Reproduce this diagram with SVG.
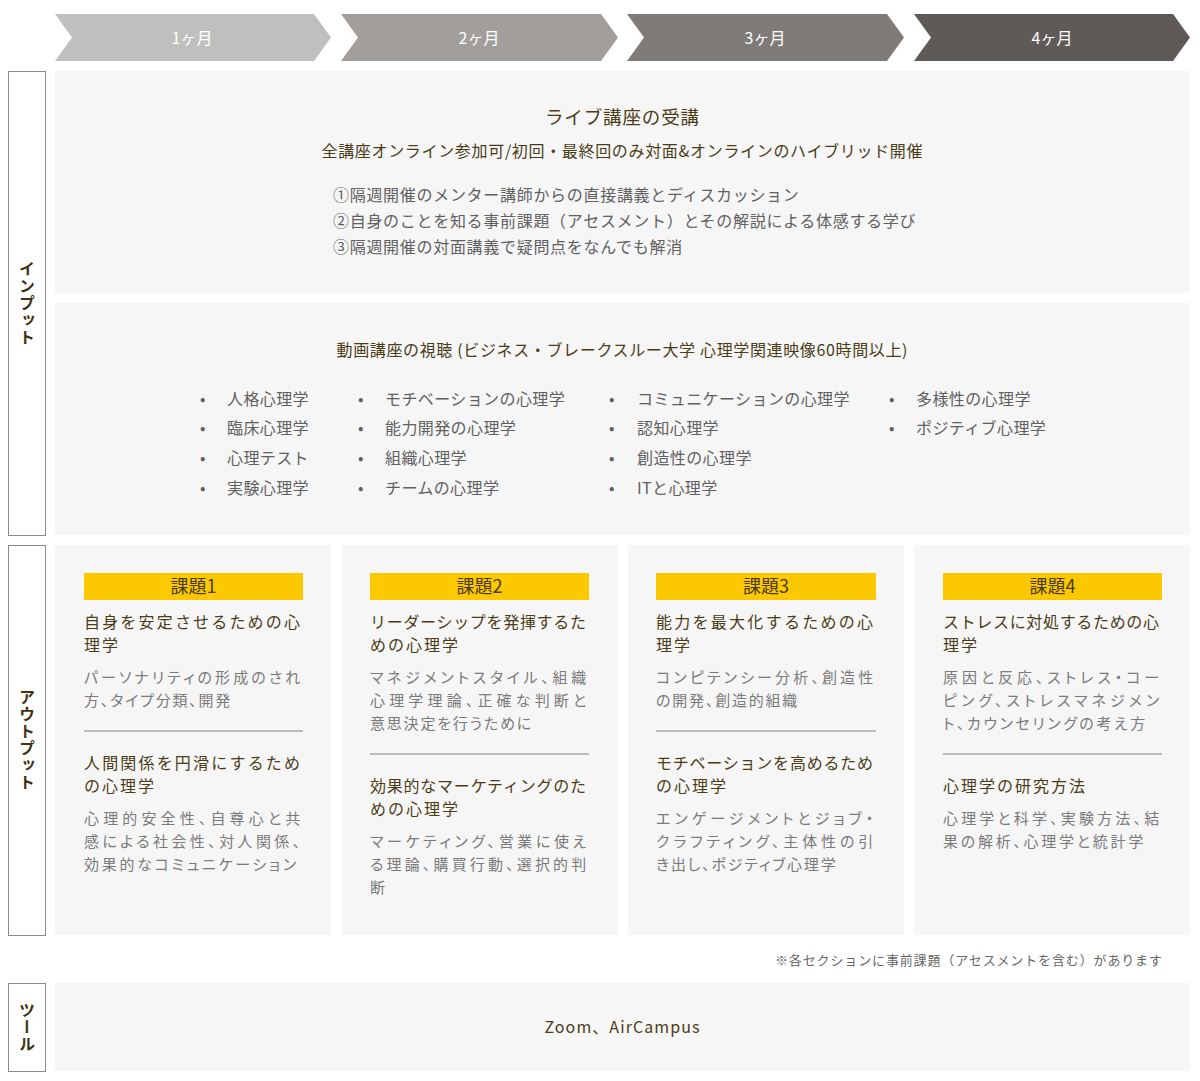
<svg xmlns="http://www.w3.org/2000/svg" width="1200" height="1081" viewBox="0 0 1200 1081">
<style>
text{font-family:"Noto Sans CJK JP","Noto Sans",sans-serif;}
.chev text{fill:#ffffff;font-size:16px;text-anchor:middle;}
.panel{fill:#f6f6f6;}
.lbl{fill:#ffffff;stroke:#8a8a8a;stroke-width:1;}
.vt{font-size:16px;font-weight:bold;fill:#3d3213;writing-mode:vertical-rl;text-anchor:middle;letter-spacing:1px;}
.hd{fill:#4a3c16;font-size:16px;}
.big{font-size:18.5px;}
.li{fill:#606060;font-size:16px;letter-spacing:0.7px;}
.bl{fill:#606060;font-size:16px;letter-spacing:0.4px;}
.bar{fill:#fcc800;}
.bt{fill:#4a3c16;font-size:18px;text-anchor:middle;}
.t{fill:#4a3c16;font-size:16px;letter-spacing:2px;}
.b{fill:#7a7a7a;font-size:15px;letter-spacing:1.8px;font-feature-settings:"palt";}
.div{stroke:#a8a8a8;stroke-width:1.3;}
</style>

<g id="timeline" class="chev">
<g id="m1"><polygon points="55,14 314,14 331,37.5 314,61 55,61 72,37.5" fill="#c0bfbd"/><text x="192" y="44">1ヶ月</text></g>
<g id="m2"><polygon points="341,14 601,14 618,37.5 601,61 341,61 358,37.5" fill="#a19e9c"/><text x="479" y="44">2ヶ月</text></g>
<g id="m3"><polygon points="627,14 887,14 904,37.5 887,61 627,61 644,37.5" fill="#7f7b79"/><text x="765" y="44">3ヶ月</text></g>
<g id="m4"><polygon points="914,14 1173,14 1190,37.5 1173,61 914,61 931,37.5" fill="#5f5a58"/><text x="1052" y="44">4ヶ月</text></g>
</g>

<g id="label-input"><rect class="lbl" x="8.5" y="71.5" width="37" height="464"/><text class="vt" x="27" y="303">インプット</text></g>
<g id="label-output"><rect class="lbl" x="8.5" y="545.5" width="37" height="390"/><text class="vt" x="27" y="740">アウトプット</text></g>
<g id="label-tool"><rect class="lbl" x="8.5" y="983.5" width="37" height="88"/><text class="vt" x="27" y="1027">ツール</text></g>

<g id="live">
<rect class="panel" x="55" y="71" width="1135" height="222"/>
<text class="hd big" x="622" y="124" text-anchor="middle" textLength="154">ライブ講座の受講</text>
<text class="hd" x="622" y="157" text-anchor="middle" textLength="601">全講座オンライン参加可/初回・最終回のみ対面&amp;オンラインのハイブリッド開催</text>
<text class="li" x="333" y="201">①隔週開催のメンター講師からの直接講義とディスカッション</text>
<text class="li" x="333" y="227">②自身のことを知る事前課題（アセスメント）とその解説による体感する学び</text>
<text class="li" x="333" y="253">③隔週開催の対面講義で疑問点をなんでも解消</text>
</g>

<g id="video">
<rect class="panel" x="55" y="303" width="1135" height="232"/>
<text class="hd" x="622" y="356" text-anchor="middle" textLength="571">動画講座の視聴 (ビジネス・ブレークスルー大学 心理学関連映像60時間以上)</text>
<g class="bl">
<text x="200" y="405">•</text><text x="227" y="405">人格心理学</text>
<text x="200" y="434">•</text><text x="227" y="434">臨床心理学</text>
<text x="200" y="464">•</text><text x="227" y="464">心理テスト</text>
<text x="200" y="494">•</text><text x="227" y="494">実験心理学</text>
<text x="358" y="405">•</text><text x="385" y="405">モチベーションの心理学</text>
<text x="358" y="434">•</text><text x="385" y="434">能力開発の心理学</text>
<text x="358" y="464">•</text><text x="385" y="464">組織心理学</text>
<text x="358" y="494">•</text><text x="385" y="494">チームの心理学</text>
<text x="609" y="405">•</text><text x="637" y="405">コミュニケーションの心理学</text>
<text x="609" y="434">•</text><text x="637" y="434">認知心理学</text>
<text x="609" y="464">•</text><text x="637" y="464">創造性の心理学</text>
<text x="609" y="494">•</text><text x="637" y="494">ITと心理学</text>
<text x="889" y="405">•</text><text x="916" y="405">多様性の心理学</text>
<text x="889" y="434">•</text><text x="916" y="434">ポジティブ心理学</text>
</g>
</g>

<g id="task1">
<rect class="panel" x="55" y="545" width="276" height="390"/>
<rect class="bar" x="84" y="573" width="219" height="27"/>
<text class="bt" x="193.5" y="593">課題1</text>
<text class="t" x="84" y="628" textLength="218">自身を安定させるための心</text>
<text class="t" x="84" y="651">理学</text>
<text class="b" x="84" y="683" textLength="218">パーソナリティの形成のされ</text>
<text class="b" x="84" y="706">方、タイプ分類、開発</text>
<line class="div" x1="84" y1="731" x2="303" y2="731"/>
<text class="t" x="84" y="769" textLength="218">人間関係を円滑にするため</text>
<text class="t" x="84" y="792">の心理学</text>
<text class="b" x="84" y="824" textLength="218">心理的安全性、自尊心と共</text>
<text class="b" x="84" y="847" textLength="218">感による社会性、対人関係、</text>
<text class="b" x="84" y="870" textLength="214">効果的なコミュニケーション</text>
</g>

<g id="task2">
<rect class="panel" x="342" y="545" width="276" height="390"/>
<rect class="bar" x="370" y="573" width="219" height="27"/>
<text class="bt" x="479.5" y="593">課題2</text>
<text class="t" x="370" y="628" textLength="218">リーダーシップを発揮するた</text>
<text class="t" x="370" y="651">めの心理学</text>
<text class="b" x="370" y="683" textLength="218">マネジメントスタイル、組織</text>
<text class="b" x="370" y="706" textLength="218">心理学理論、正確な判断と</text>
<text class="b" x="370" y="729">意思決定を行うために</text>
<line class="div" x1="370" y1="754" x2="589" y2="754"/>
<text class="t" x="370" y="792" textLength="218">効果的なマーケティングのた</text>
<text class="t" x="370" y="815">めの心理学</text>
<text class="b" x="370" y="847" textLength="218">マーケティング、営業に使え</text>
<text class="b" x="370" y="870" textLength="218">る理論、購買行動、選択的判</text>
<text class="b" x="370" y="893">断</text>
</g>

<g id="task3">
<rect class="panel" x="628" y="545" width="276" height="390"/>
<rect class="bar" x="656" y="573" width="220" height="27"/>
<text class="bt" x="766" y="593">課題3</text>
<text class="t" x="656" y="628" textLength="219">能力を最大化するための心</text>
<text class="t" x="656" y="651">理学</text>
<text class="b" x="656" y="683" textLength="219">コンピテンシー分析、創造性</text>
<text class="b" x="656" y="706">の開発、創造的組織</text>
<line class="div" x1="656" y1="731" x2="876" y2="731"/>
<text class="t" x="656" y="769" textLength="219">モチベーションを高めるため</text>
<text class="t" x="656" y="792">の心理学</text>
<text class="b" x="656" y="824" textLength="219">エンゲージメントとジョブ・</text>
<text class="b" x="656" y="847" textLength="219">クラフティング、主体性の引</text>
<text class="b" x="656" y="870">き出し、ポジティブ心理学</text>
</g>

<g id="task4">
<rect class="panel" x="914" y="545" width="276" height="390"/>
<rect class="bar" x="943" y="573" width="219" height="27"/>
<text class="bt" x="1052.5" y="593">課題4</text>
<text class="t" x="943" y="628" textLength="218">ストレスに対処するための心</text>
<text class="t" x="943" y="651">理学</text>
<text class="b" x="943" y="683" textLength="218">原因と反応、ストレス・コー</text>
<text class="b" x="943" y="706" textLength="218">ピング、ストレスマネジメン</text>
<text class="b" x="943" y="729" textLength="204">ト、カウンセリングの考え方</text>
<line class="div" x1="943" y1="754" x2="1162" y2="754"/>
<text class="t" x="943" y="792">心理学の研究方法</text>
<text class="b" x="943" y="824" textLength="218">心理学と科学、実験方法、結</text>
<text class="b" x="943" y="847" textLength="202">果の解析、心理学と統計学</text>
</g>

<text id="note" x="775" y="965" font-size="13" fill="#666666" textLength="387">※各セクションに事前課題（アセスメントを含む）があります</text>

<g id="tools">
<rect class="panel" x="55" y="983" width="1135" height="88"/>
<text class="hd" x="622" y="1033" text-anchor="middle" textLength="155">Zoom、AirCampus</text>
</g>
</svg>
